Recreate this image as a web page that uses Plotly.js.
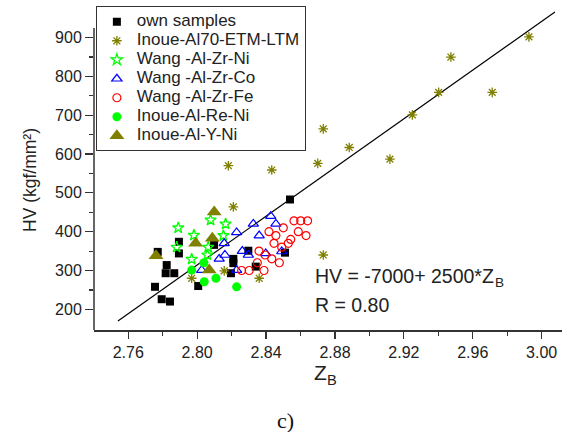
<!DOCTYPE html>
<html>
<head>
<meta charset="utf-8">
<script src="https://cdn.plot.ly/plotly-3.0.1.min.js"></script>
<style>html,body{margin:0;padding:0;background:#fff;}#chart{width:566px;height:432px;}</style>
</head>
<body>
<div id="chart"></div>
<script>
// ---- data ----
var ownX = [2.7771, 2.7894, 2.7894, 2.7823, 2.7817, 2.7867, 2.7755, 2.7794, 2.7842, 2.8006, 2.8098, 2.8539, 2.8297, 2.8210, 2.8210, 2.8510, 2.8340, 2.8196];
var ownY = [348, 374, 344, 314, 293, 293, 258, 226, 220, 260, 366, 483, 351, 330, 319, 346, 310, 293];

var inoueEtmX = [2.8181, 2.8433, 2.8433, 2.8732, 2.8700, 2.8883, 2.9119, 2.9249, 2.9402, 2.9713, 2.9473, 2.9926, 2.8210, 2.8732, 2.7968, 2.8157, 2.8360];
var inoueEtmY = [570, 623, 559, 665, 576, 617, 587, 701, 759, 759, 850, 902, 464, 340, 280, 299, 280];

var wangNiX = [2.7890, 2.8078, 2.7981, 2.7881, 2.8064, 2.7968, 2.8059, 2.8165, 2.8152];
var wangNiY = [410, 430, 391, 360, 360, 329, 340, 420, 390];

var wangCoX = [2.8427, 2.8326, 2.8457, 2.8229, 2.8360, 2.8157, 2.8262, 2.8297, 2.8398, 2.8161, 2.8128, 2.8026, 2.8229, 2.8491];
var wangCoY = [440, 420, 420, 398, 390, 370, 350, 340, 344, 340, 330, 301, 301, 349];

var wangFeX = [2.8562, 2.8601, 2.8641, 2.8417, 2.8457, 2.8500, 2.8587, 2.8632, 2.8446, 2.8491, 2.8529, 2.8543, 2.8359, 2.8394, 2.8433, 2.8477, 2.8349, 2.8258, 2.8302, 2.8388];
var wangFeY = [428, 428, 428, 400, 390, 410, 400, 390, 370, 360, 370, 380, 350, 340, 330, 320, 320, 300, 300, 300];

var inoueReX = [2.7968, 2.8039, 2.8041, 2.8109, 2.8229];
var inoueReY = [301, 320, 271, 280, 258];

var inoueYX = [2.7761, 2.8099, 2.7991, 2.8088, 2.8070];
var inoueYY = [338, 451, 370, 383, 301];

var fitX = [2.754, 3.0077];
var fitY = [170, 966];

var seriesNames = ['own samples', 'Inoue-Al70-ETM-LTM', 'Wang -Al-Zr-Ni', 'Wang -Al-Zr-Co', 'Wang -Al-Zr-Fe', 'Inoue-Al-Re-Ni', 'Inoue-Al-Y-Ni'];

var xTicks = [2.76, 2.80, 2.84, 2.88, 2.92, 2.96, 3.00];
var xTickText = ["2.76", "2.80", "2.84", "2.88", "2.92", "2.96", "3.00"];
var xMinor = [2.78, 2.82, 2.86, 2.90, 2.94, 2.98];
var yTicks = [200, 300, 400, 500, 600, 700, 800, 900];
var yMinor = [250, 350, 450, 550, 650, 750, 850];

// ---- styles ----
var FONT = "Liberation Sans, Arial, sans-serif";
var OLIVE = "#808000";
var TXT = '#222';
function nm(s){ return '<span style="font-size:17px">' + s + '</span>'; }

var traces = [
  {x: fitX, y: fitY, type: 'scatter', mode: 'lines', showlegend: false,
   line: {color: '#000', width: 1.2}, hoverinfo: 'skip'},
  {x: ownX, y: ownY, type: 'scatter', mode: 'markers', name: nm(seriesNames[0]),
   marker: {symbol: 'square', size: 8, color: '#000'}},
  {x: inoueEtmX, y: inoueEtmY, type: 'scatter', mode: 'markers', name: nm(seriesNames[1]),
   marker: {symbol: 'asterisk-open', size: 8, color: OLIVE, line: {color: OLIVE, width: 1.3}}},
  {x: wangNiX, y: wangNiY, type: 'scatter', mode: 'markers', name: nm(seriesNames[2]),
   marker: {symbol: 'star-open', size: 8.5, color: '#00ff00', line: {color: '#00ff00', width: 1.3}}},
  {x: wangCoX, y: wangCoY, type: 'scatter', mode: 'markers', name: nm(seriesNames[3]),
   marker: {symbol: 'triangle-up-open', size: 9, color: '#0000ff', line: {color: '#0000ff', width: 1.2}}},
  {x: wangFeX, y: wangFeY, type: 'scatter', mode: 'markers', name: nm(seriesNames[4]),
   marker: {symbol: 'circle-open', size: 8, color: '#ff0000', line: {color: '#ff0000', width: 1.2}}},
  {x: inoueReX, y: inoueReY, type: 'scatter', mode: 'markers', name: nm(seriesNames[5]),
   marker: {symbol: 'circle', size: 9, color: '#00ff00'}},
  {x: inoueYX, y: inoueYY, type: 'scatter', mode: 'markers', name: nm(seriesNames[6]),
   marker: {symbol: 'triangle-up', size: 13, color: OLIVE}}
];

// plot area: x 94..562 px, y 3..330 px
function px(p){ return (p - 94) / 468; }
function py(p){ return (330 - p) / 327; }

var layout = {
  width: 566, height: 432,
  margin: {l: 94, r: 4, t: 3, b: 102},
  paper_bgcolor: '#fff', plot_bgcolor: '#fff',
  font: {family: FONT, color: TXT},
  showlegend: true,
  legend: {
    x: 0.004, y: 0.990, xanchor: 'left', yanchor: 'top',
    bgcolor: '#fff', bordercolor: '#333', borderwidth: 1,
    font: {family: FONT, size: 12, color: TXT},
    tracegroupgap: 0
  },
  xaxis: {
    range: [2.7401, 3.0118], showgrid: false, zeroline: false,
    showline: true, linecolor: '#333', linewidth: 1.5,
    ticks: 'outside', ticklen: 7, tickwidth: 1.2, tickcolor: '#333',
    tickmode: 'array', tickvals: xTicks, ticktext: xTickText,
    tickfont: {family: FONT, size: 16, color: TXT},
    minor: {tickmode: 'array', tickvals: xMinor, ticks: 'outside', ticklen: 4, tickwidth: 1.2, tickcolor: '#333', showgrid: false}
  },
  yaxis: {
    range: [146.7, 989.3], showgrid: false, zeroline: false,
    showline: false,
    ticks: 'outside', ticklen: 8, tickwidth: 1.2, tickcolor: '#333',
    tickmode: 'array', tickvals: yTicks,
    tickfont: {family: FONT, size: 16, color: TXT},
    minor: {tickmode: 'array', tickvals: yMinor, ticks: 'outside', ticklen: 4, tickwidth: 1.2, tickcolor: '#333', showgrid: false}
  },
  shapes: [
    {type: 'line', xref: 'paper', yref: 'y', x0: 0, x1: 0, y0: 146.7, y1: 925,
     line: {color: '#333', width: 1.5}, layer: 'above'}
  ],
  annotations: [
    {text: 'HV (kgf/mm\u00b2)', xref: 'paper', yref: 'paper', x: px(30), y: py(180),
     xanchor: 'center', yanchor: 'middle', textangle: -90, showarrow: false,
     font: {family: FONT, size: 17.5, color: TXT}},
    // x-axis title Z with subscript B
    {text: 'Z', xref: 'paper', yref: 'paper', x: px(311.5), y: py(372),
     xanchor: 'left', yanchor: 'middle', showarrow: false,
     font: {family: FONT, size: 21, color: TXT}},
    {text: 'B', xref: 'paper', yref: 'paper', x: px(325), y: py(379.5),
     xanchor: 'left', yanchor: 'middle', showarrow: false,
     font: {family: FONT, size: 14.7, color: TXT}},
    {text: 'c)', xref: 'paper', yref: 'paper', x: px(285), y: py(420),
     xanchor: 'center', yanchor: 'middle', showarrow: false,
     font: {family: 'Liberation Serif, Times New Roman, serif', size: 22, color: '#111'}},
    // fit equation with subscript B
    {text: 'HV = -7000+ 2500*Z', xref: 'paper', yref: 'paper', x: px(313), y: py(275.5),
     xanchor: 'left', yanchor: 'middle', showarrow: false,
     font: {family: FONT, size: 19.5, color: TXT}},
    {text: 'B', xref: 'paper', yref: 'paper', x: px(492.5), y: py(282.5),
     xanchor: 'left', yanchor: 'middle', showarrow: false,
     font: {family: FONT, size: 13.6, color: TXT}},
    {text: 'R = 0.80', xref: 'paper', yref: 'paper', x: px(313), y: py(304.5),
     xanchor: 'left', yanchor: 'middle', showarrow: false,
     font: {family: FONT, size: 19.5, color: TXT}}
  ]
};

Plotly.newPlot('chart', traces, layout, {displayModeBar: false, staticPlot: true});
</script>
</body>
</html>
